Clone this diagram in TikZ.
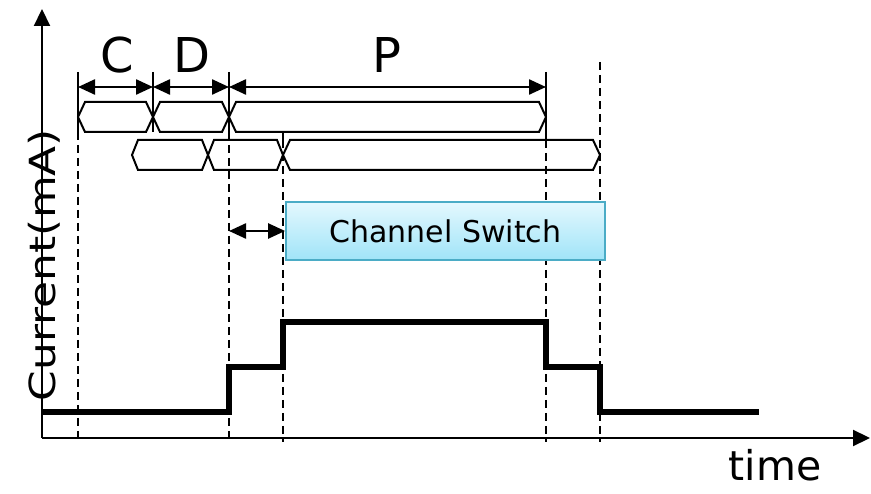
\documentclass[tikz,border=0pt]{standalone}
\usepackage{fontspec}
\setmainfont{DejaVu Sans}
\usetikzlibrary{arrows.meta}
\newcommand\hexbx[5]{%
  \draw[hex] (#1,{(#3+#4)/2}) -- (#1+#5,#3) -- (#2-#5,#3) -- (#2,{(#3+#4)/2}) -- (#2-#5,#4) -- (#1+#5,#4) -- cycle;}
\begin{document}
\begin{tikzpicture}[x=1pt,y=-1pt,
  axis/.style={line width=2.2pt,-{Triangle[length=17pt,width=16pt]}},
  hex/.style={line width=2pt,line join=miter},
  guide/.style={line width=1.8pt,dash pattern=on 8pt off 5pt},
  tickln/.style={line width=2.2pt},
  dim/.style={line width=2.4pt,{Triangle[length=17pt,width=15pt]}-{Triangle[length=17pt,width=15pt]}},
  wave/.style={line width=5.5pt,line join=miter},
  bigtxt/.style={anchor=base,font=\fontsize{48}{48}\selectfont}]
\useasboundingbox (0,0) rectangle (871,494);

% axes
\coordinate (o) at (42,438);
\coordinate (ytop) at (42,9);
\coordinate (xend) at (870,438);
\draw[axis] (o) -- (ytop);
\draw[axis] (o) -- (xend);

% guide lines
\draw[guide] (78,132) -- (78,442);
\draw[guide] (229,132) -- (229,442);
\draw[guide] (283,140) -- (283,442);
\draw[guide] (546,140) -- (546,442);
\draw[guide] (600,62) -- (600,442);
\draw[tickln] (78,72) -- (78,132);
\draw[tickln] (153,72) -- (153,132);
\draw[tickln] (229,72) -- (229,132);
\draw[tickln] (546,72) -- (546,140);
\draw[tickln] (283,132) -- (283,140);

% dimension arrows
\coordinate (d0) at (78,87);
\coordinate (d1) at (153,87);
\coordinate (d2) at (229,87);
\coordinate (d3) at (546,87);
\draw[dim] (d0) -- (d1);
\draw[dim] (d1) -- (d2);
\draw[dim] (d2) -- (d3);
\node[bigtxt] (lc) at (117,73) {C};
\node[bigtxt] (ld) at (192,73) {D};
\node[bigtxt] (lp) at (387,73) {P};

% hexagon rows
\hexbx{78}{153}{102}{132}{7}
\hexbx{153}{229}{102}{132}{7}
\hexbx{229}{546}{102}{132}{7}
\hexbx{132}{208}{140}{170}{6}
\hexbx{208}{283}{140}{170}{6}
\hexbx{283}{600}{140}{170}{7}

% channel switch
\node[draw={rgb,255:red,75;green,172;blue,198},line width=1.8pt,
      top color={rgb,255:red,228;green,248;blue,254},
      bottom color={rgb,255:red,160;green,228;blue,248},
      minimum width=319pt,minimum height=58pt,inner sep=0pt,
      font=\fontsize{30}{30}\selectfont] (cs) at (445.5,231) {Channel Switch};
\coordinate (ga) at (229,231);
\draw[dim] (ga) -- (cs.west);

% current waveform
\draw[wave] (42,412) -| (229,367) -| (283,322) -| (546,367) -| (600,412) -- (759,412);

% labels
\node[rotate=90,anchor=base,font=\fontsize{36}{36}\selectfont] (ylab) at (56,265) {\scalebox{1.22}[1]{Current(mA)}};
\node[anchor=base,font=\fontsize{41}{41}\selectfont] (lt) at (775,480) {time};
\end{tikzpicture}
\end{document}
